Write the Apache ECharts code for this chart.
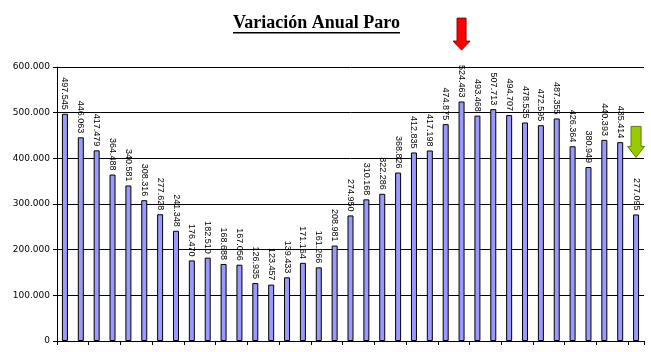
<!DOCTYPE html>
<html>
<head>
<meta charset="utf-8">
<script src="https://cdn.jsdelivr.net/npm/echarts@6/dist/echarts.min.js"></script>
<style>
html, body { margin: 0; padding: 0; background: #fff; }
#chart { width: 651px; height: 352px; }
</style>
</head>
<body>
<div id="chart"></div>
<script>
// datos del paro, un valor por año
var valores = [497545, 446063, 417479, 364488, 340581, 308316, 277628, 241348, 176470, 182510,
	168688, 167056, 126935, 123457, 139433, 171164, 161266, 208981, 274950, 310168,
	322286, 368826, 412835, 417198, 474875, 524463, 493468, 507713, 494707, 478535,
	472595, 487355, 426364, 380949, 440393, 435414, 277095];
var categorias = valores.map(function(v, i) { return 'A' + (i + 1); });
var yTicks = [0, 100000, 200000, 300000, 400000, 500000, 600000];

// flechas (indice de categoria, valor donde se centra)
var flechaRoja = [25, 672000];
var flechaVerde = [36, 436000];

function puntos(n) {
	return String(n).replace(/\B(?=(\d{3})+(?!\d))/g, '.');
}

var myChart = echarts.init(document.getElementById('chart'));

var option = {
	backgroundColor: '#fff',
	animation: false,
	title: {
		text: 'Variación Anual Paro',
		left: 233,
		top: 14,
		padding: 0,
		textStyle: {
			fontFamily: 'Liberation Serif',
			fontWeight: 'bold',
			fontSize: 18,
			color: '#000'
		}
	},
	grid: {
		left: 57,
		right: 7,
		top: 67,
		bottom: 11
	},
	xAxis: {
		type: 'category',
		data: categorias,
		axisLine: { show: true, lineStyle: { color: '#000', width: 1 } },
		axisTick: { show: true, length: 4, lineStyle: { color: '#000' } },
		axisLabel: { show: false },
		splitLine: { show: false }
	},
	yAxis: {
		type: 'value',
		min: yTicks[0],
		max: yTicks[yTicks.length - 1],
		interval: 100000,
		axisLine: { show: true, lineStyle: { color: '#000', width: 1 } },
		axisTick: { show: true, length: 4, lineStyle: { color: '#000' } },
		axisLabel: {
			color: '#000',
			fontFamily: 'DejaVu Sans',
			fontSize: 9,
			margin: 7,
			formatter: function(v) { return puntos(v); }
		},
		splitLine: { show: true, lineStyle: { color: '#000', width: 1 } }
	},
	series: [{
		type: 'bar',
		data: valores,
		barWidth: 6,
		itemStyle: {
			color: '#9999FF',
			borderColor: '#000',
			borderWidth: 1
		},
		label: {
			show: true,
			position: 'top',
			rotate: -90,
			align: 'right',
			verticalAlign: 'middle',
			distance: 4,
			color: '#000',
			fontFamily: 'Liberation Sans',
			fontSize: 9,
			formatter: function(p) { return puntos(p.value); }
		}
	}]
};

myChart.setOption(option);

// subrayado del titulo y flechas, colocadas con las escalas del grafico
var pr = myChart.convertToPixel({ seriesIndex: 0 }, flechaRoja);
var pv = myChart.convertToPixel({ seriesIndex: 0 }, flechaVerde);
myChart.setOption({
	graphic: [{
		type: 'rect',
		left: 233,
		top: 32,
		shape: { width: 167, height: 1.5 },
		style: { fill: '#000' }
	}, {
		type: 'polygon',
		x: pr[0] - 8.5,
		y: pr[1] - 16,
		shape: { points: [[4, 0], [13, 0], [13, 23], [17, 23], [8.5, 32], [0, 23], [4, 23]] },
		style: { fill: '#FF0000', stroke: '#8B0000', lineWidth: 1 }
	}, {
		type: 'polygon',
		x: pv[0] - 8.5,
		y: pv[1] - 15.5,
		shape: { points: [[3.5, 0], [13.5, 0], [13.5, 20], [17, 20], [8.5, 31], [0, 20], [3.5, 20]] },
		style: { fill: '#99CC00', stroke: '#5E7D00', lineWidth: 1 }
	}]
});
</script>
</body>
</html>
